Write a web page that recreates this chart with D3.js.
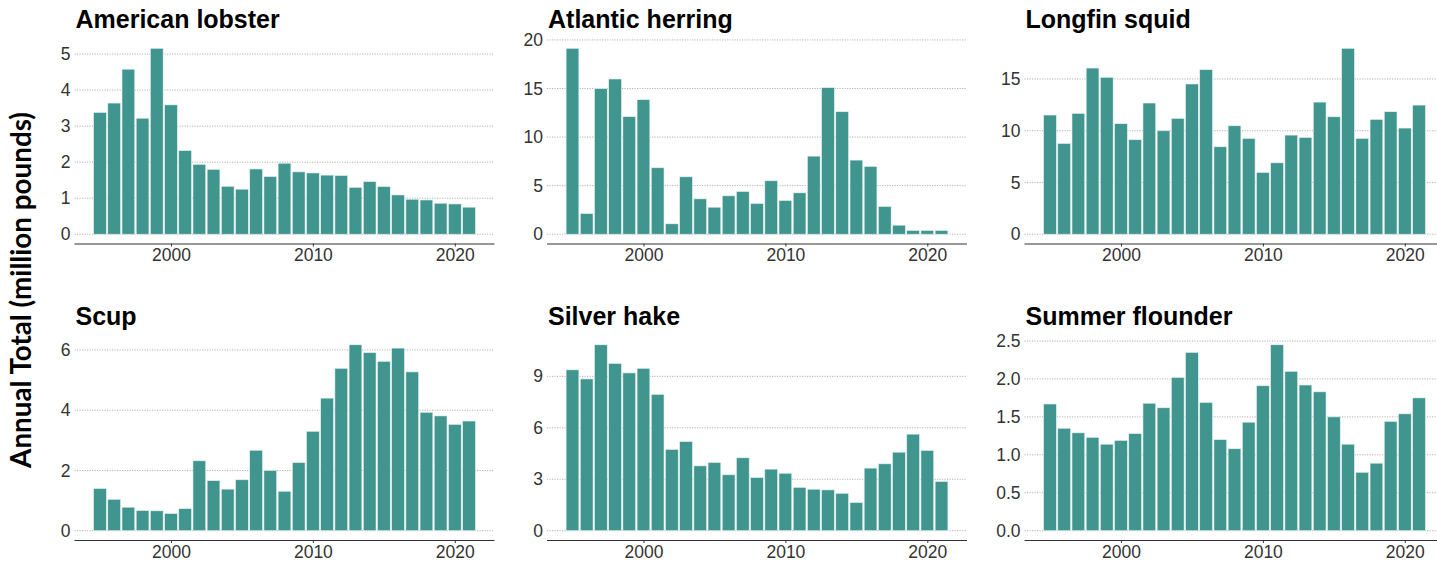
<!DOCTYPE html>
<html>
<head>
<meta charset="utf-8">
<script src="https://cdn.jsdelivr.net/npm/d3@7"></script>
<style>
  html, body { margin: 0; padding: 0; background: #fff; }
  svg { display: block; }
</style>
</head>
<body>
<svg id="chart" width="1437" height="561"></svg>
<script>
// ---------------- DATA ----------------
const years = d3.range(1995, 2022); // 1995 ... 2021

const species = ["American lobster", "Atlantic herring", "Longfin squid", "Scup", "Silver hake", "Summer flounder"];

const americanLobster = [3.38, 3.64, 4.58, 3.22, 5.16, 3.59, 2.32, 1.94, 1.80, 1.33, 1.25, 1.81, 1.60, 1.97, 1.73, 1.70, 1.64, 1.63, 1.30, 1.46, 1.32, 1.09, 0.97, 0.95, 0.86, 0.84, 0.75];
const atlanticHerring = [19.14, 2.13, 14.98, 15.98, 12.10, 13.85, 6.84, 1.07, 5.91, 3.64, 2.78, 3.95, 4.40, 3.16, 5.50, 3.47, 4.26, 8.04, 15.09, 12.61, 7.63, 6.98, 2.85, 0.93, 0.38, 0.38, 0.38];
const longfinSquid = [11.52, 8.77, 11.68, 16.06, 15.16, 10.68, 9.13, 12.68, 10.00, 11.19, 14.52, 15.90, 8.45, 10.48, 9.26, 5.97, 6.90, 9.58, 9.35, 12.77, 11.35, 17.97, 9.26, 11.10, 11.84, 10.26, 12.48];
const scup = [1.40, 1.04, 0.78, 0.67, 0.66, 0.57, 0.73, 2.32, 1.66, 1.38, 1.69, 2.67, 2.00, 1.31, 2.26, 3.30, 4.40, 5.39, 6.17, 5.91, 5.62, 6.06, 5.27, 3.93, 3.81, 3.53, 3.64];
const silverHake = [9.38, 8.85, 10.84, 9.75, 9.20, 9.47, 7.95, 4.74, 5.20, 3.78, 3.98, 3.26, 4.25, 3.10, 3.59, 3.35, 2.53, 2.42, 2.38, 2.18, 1.64, 3.65, 3.90, 4.58, 5.63, 4.68, 2.87];
const summerFlounder = [1.67, 1.35, 1.29, 1.23, 1.14, 1.19, 1.28, 1.68, 1.62, 2.02, 2.35, 1.69, 1.20, 1.08, 1.43, 1.91, 2.45, 2.10, 1.92, 1.83, 1.50, 1.14, 0.77, 0.89, 1.44, 1.54, 1.75];

const seriesValues = [americanLobster, atlanticHerring, longfinSquid, scup, silverHake, summerFlounder];

// y tick values / labels per panel
const yTicksLobster = [0, 1, 2, 3, 4, 5];
const yTicksHerring = [0, 5, 10, 15, 20];
const yTicksSquid = [0, 5, 10, 15];
const yTicksScup = [0, 2, 4, 6];
const yTicksHake = [0, 3, 6, 9];
const yTicksFlounder = [0, 0.5, 1.0, 1.5, 2.0, 2.5];
const yTickLists = [yTicksLobster, yTicksHerring, yTicksSquid, yTicksScup, yTicksHake, yTicksFlounder];
const yTickFormats = ["d", "d", "d", "d", "d", ".1f"];

const xTicks = [2000, 2010, 2020];
const yAxisTitle = "Annual Total (million pounds)";

// ---------------- LAYOUT ----------------
const svg = d3.select("#chart");
const colLeft = [74.5, 547, 1024.5];
const panelW = 420;
const rowTop = [39, 335.5];
const panelH = 204.5;
const barColor = "#40968f";
const barWidth = 0.9;
const tickFont = "'Liberation Sans', Arial, Helvetica, sans-serif";

species.forEach((name, i) => {
  const col = i % 3, row = Math.floor(i / 3);
  const x0 = colLeft[col], y0 = rowTop[row];
  const vals = seriesValues[i];
  const data = years.map((yr, k) => ({ year: yr, value: vals[k] }));

  // ggplot-like continuous x with 5% expansion
  const xMin = d3.min(years) - barWidth / 2, xMax = d3.max(years) + barWidth / 2;
  const xPad = (xMax - xMin) * 0.05;
  const x = d3.scaleLinear().domain([xMin - xPad, xMax + xPad]).range([x0, x0 + panelW]);

  const vMax = d3.max(vals);
  const yPad = vMax * 0.05;
  const y = d3.scaleLinear().domain([-yPad, vMax + yPad]).range([y0 + panelH, y0]);

  const g = svg.append("g");

  // title
  g.append("text")
    .attr("x", x0 + 1)
    .attr("y", y0 - 11)
    .attr("font-family", tickFont)
    .attr("font-weight", "bold")
    .attr("font-size", 25)
    .attr("fill", "#000")
    .text(name);

  // gridlines (dotted)
  const ticks = yTickLists[i];
  g.append("g").selectAll("line")
    .data(ticks)
    .join("line")
    .attr("x1", x0).attr("x2", x0 + panelW)
    .attr("y1", d => y(d)).attr("y2", d => y(d))
    .attr("stroke", "#aaaaaa")
    .attr("stroke-width", 0.9)
    .attr("stroke-dasharray", "1.2,1.3");

  // y tick labels via d3 axis
  const yAxis = d3.axisLeft(y).tickValues(ticks).tickSize(0).tickPadding(4)
    .tickFormat(d3.format(yTickFormats[i]));
  const ya = g.append("g").attr("transform", `translate(${x0},0)`).call(yAxis);
  ya.select(".domain").remove();
  ya.selectAll("text")
    .attr("font-family", tickFont)
    .attr("font-size", 17.5)
    .attr("fill", "#333");

  // bars
  const bw = x(barWidth) - x(0);
  g.append("g").selectAll("rect")
    .data(data)
    .join("rect")
    .attr("x", d => x(d.year - barWidth / 2))
    .attr("width", bw)
    .attr("y", d => y(d.value))
    .attr("height", d => y(0) - y(d.value))
    .attr("fill", barColor)
    .attr("stroke", "#e8f2f1")
    .attr("stroke-width", 0.6);

  // x axis
  const xAxis = d3.axisBottom(x).tickValues(xTicks).tickSize(3).tickPadding(2.5).tickFormat(d3.format("d"));
  const xa = g.append("g").attr("transform", `translate(0,${y0 + panelH})`).call(xAxis);
  xa.select(".domain").attr("stroke", "#333").attr("stroke-width", 1.2)
    .attr("d", `M${x0},0.5H${x0 + panelW}`);
  xa.selectAll(".tick line").attr("stroke", "#333");
  xa.selectAll("text")
    .attr("font-family", tickFont)
    .attr("font-size", 17.5)
    .attr("fill", "#333");
});

// shared y axis title, sized to span the reference length
const yt = svg.append("text")
  .attr("transform", "translate(31,290) rotate(-90)")
  .attr("text-anchor", "middle")
  .attr("font-family", "Lato, 'Open Sans', sans-serif")
  .attr("font-weight", "bold")
  .attr("font-size", 23)
  .attr("fill", "#000")
  .text(yAxisTitle);
const targetLen = 356;
const curLen = yt.node().getComputedTextLength();
if (curLen > 0) yt.attr("font-size", 23 * targetLen / curLen);
</script>
</body>
</html>
